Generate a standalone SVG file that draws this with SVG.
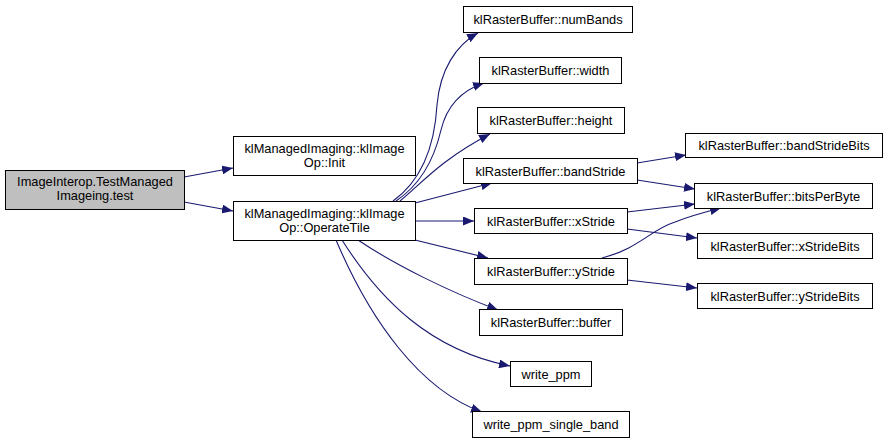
<svg xmlns="http://www.w3.org/2000/svg" width="888" height="443" viewBox="0 0 888 443">
<defs>
<marker id="arr" markerUnits="userSpaceOnUse" markerWidth="11" markerHeight="9" viewBox="0 0 11 9" refX="11" refY="4.5" orient="auto">
<path d="M0,0 L11,4.5 L0,9 z" fill="#191970"/>
</marker>
<style>
rect{fill:#fff;stroke:#000;stroke-width:1}
#n_test rect{fill:#bfbfbf}
text{font-family:"Liberation Sans",Arial,sans-serif;font-size:12.8px;fill:#000;text-anchor:middle}
#edges path{fill:none;stroke:#191970;stroke-width:1.1;marker-end:url(#arr)}
</style>
</defs>
<rect x="0" y="0" width="888" height="443" style="fill:#fff;stroke:none"/>
<g id="edges">
<path d="M184,177 L233,168"/>
<path d="M184,202 L233,211"/>
<path d="M393,201 C425,178 435,140 437,105 C440,70 456,45 478,33"/>
<path d="M396,201 C420,185 434,160 441,130 C447,105 463,90 484,83"/>
<path d="M400,201 C420,185 440,160 490,134"/>
<path d="M415,203 L492,183"/>
<path d="M415,221 L474,221"/>
<path d="M415,240 L488,258"/>
<path d="M358,240 C395,265 450,292 498,310"/>
<path d="M342,240 C380,300 430,350 510,366"/>
<path d="M336,240 C370,320 420,390 482,412"/>
<path d="M637,163 L686,155"/>
<path d="M637,180 L695,189"/>
<path d="M627,212 L695,204"/>
<path d="M627,229 L697,238"/>
<path d="M602,258 C640,248 650,230 675,222 C690,216 705,212 721,208"/>
<path d="M627,280 L697,288"/>
</g>
<g id="n_test"><rect x="5.5" y="170.5" width="179" height="39"/><text x="95" y="186">ImageInterop.TestManaged</text><text x="95" y="200">Imageing.test</text></g>
<g id="n_init"><rect x="233.5" y="136.5" width="182" height="39"/><text x="324.5" y="153">klManagedImaging::klImage</text><text x="324.5" y="167">Op::Init</text></g>
<g id="n_operatetile"><rect x="233.5" y="201.5" width="182" height="39"/><text x="324.5" y="218">klManagedImaging::klImage</text><text x="324.5" y="232">Op::OperateTile</text></g>
<g id="n_numbands"><rect x="463.5" y="6.5" width="169" height="26"/><text x="548" y="24">klRasterBuffer::numBands</text></g>
<g id="n_width"><rect x="479.5" y="57.5" width="142" height="26"/><text x="550.5" y="75">klRasterBuffer::width</text></g>
<g id="n_height"><rect x="477.5" y="107.5" width="147" height="26"/><text x="551" y="125">klRasterBuffer::height</text></g>
<g id="n_bandstride"><rect x="463.5" y="158.5" width="174" height="25"/><text x="550.5" y="175.5">klRasterBuffer::bandStride</text></g>
<g id="n_xstride"><rect x="474.5" y="208.5" width="153" height="25"/><text x="551" y="225.5">klRasterBuffer::xStride</text></g>
<g id="n_ystride"><rect x="474.5" y="258.5" width="153" height="26"/><text x="551" y="276">klRasterBuffer::yStride</text></g>
<g id="n_buffer"><rect x="479.5" y="309.5" width="143" height="26"/><text x="551" y="327">klRasterBuffer::buffer</text></g>
<g id="n_write_ppm"><rect x="510.5" y="361.5" width="81" height="25"/><text x="551" y="378.5">write_ppm</text></g>
<g id="n_write_ppm_single_band"><rect x="472.5" y="411.5" width="157" height="26"/><text x="551" y="429">write_ppm_single_band</text></g>
<g id="n_bandstridebits"><rect x="685.5" y="133.5" width="197" height="24"/><text x="784" y="150">klRasterBuffer::bandStrideBits</text></g>
<g id="n_bitsperbyte"><rect x="694.5" y="183.5" width="178" height="25"/><text x="783.5" y="200.5">klRasterBuffer::bitsPerByte</text></g>
<g id="n_xstridebits"><rect x="697.5" y="233.5" width="175" height="25"/><text x="785" y="250.5">klRasterBuffer::xStrideBits</text></g>
<g id="n_ystridebits"><rect x="697.5" y="283.5" width="175" height="25"/><text x="785" y="300.5">klRasterBuffer::yStrideBits</text></g>
</svg>
